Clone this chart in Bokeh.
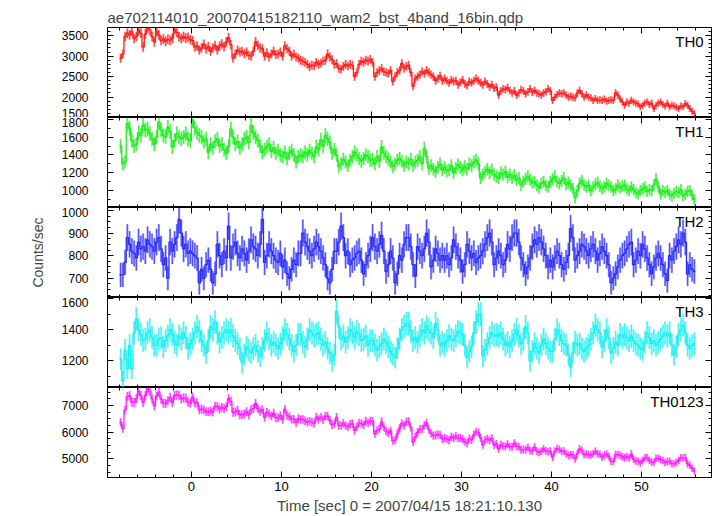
import numpy as np
from bokeh.plotting import figure
from bokeh.layouts import column
from bokeh.models import LinearAxis, Range1d, Label, SingleIntervalTicker, CustomLabelingPolicy
from bokeh.embed import file_html
from bokeh.resources import INLINE

# ---------------- data (0.25 s bins starting at -8 s) ----------------
bin_width = 0.25
t_start = -8.0

th0 = [
    2950, 3050, 3480, 3560, 3520, 3600, 3430, 3480, 3620, 3560, 3220, 3540, 3700, 3640, 3480, 3350,
    3600, 3520, 3380, 3420, 3360, 3410, 3390, 3440, 3650, 3580, 3470, 3430, 3480, 3440, 3460, 3400,
    3380, 3220, 3250, 3150, 3200, 3290, 3180, 3230, 3120, 3200, 3260, 3150, 3250, 3300, 3230, 3350,
    3450, 3280, 2950, 3050, 3150, 3100, 3120, 3060, 3100, 3020, 3000, 3120, 3350, 3260, 3200, 3180,
    3000, 3080, 2980, 3050, 3120, 3040, 3050, 3100, 3000, 3250, 3180, 3120, 3000, 3050, 2980, 2950,
    2900, 2880, 2850, 2800, 2740, 2780, 2760, 2850, 2800, 2830, 2880, 2900, 3050, 2980, 2920, 2800,
    2820, 2700, 2680, 2750, 2800, 2760, 2800, 2780, 2500, 2600, 2800, 2880, 2850, 2900, 2880, 2920,
    2850, 2500, 2600, 2650, 2700, 2620, 2600, 2580, 2650, 2380, 2500, 2600, 2650, 2820, 2700, 2750,
    2780, 2600, 2260, 2450, 2500, 2550, 2620, 2580, 2650, 2600, 2550, 2500, 2400, 2450, 2520, 2400,
    2450, 2400, 2350, 2420, 2380, 2400, 2300, 2360, 2420, 2320, 2280, 2380, 2350, 2400, 2450, 2400,
    2350, 2300, 2380, 2320, 2250, 2300, 2220, 2240, 2050, 2150, 2200, 2180, 2230, 2160, 2100, 2150,
    2050, 2100, 2180, 2150, 2080, 2130, 2200, 2120, 2160, 2100, 2080, 2050, 2100, 2130, 2200, 2150,
    1920, 2000, 2060, 2100, 2080, 2100, 2050, 2000, 2020, 2000, 1980, 2100, 2160, 2080, 2000, 2050,
    2000, 1980, 1920, 1960, 1920, 1930, 1920, 1950, 1900, 1920, 1930, 1920, 2100, 2050, 1950, 1880,
    1800, 1880, 1850, 1920, 1880, 1850, 1830, 1760, 1800, 1850, 1880, 1820, 1850, 1720, 1800, 1850,
    1880, 1820, 1780, 1850, 1760, 1800, 1780, 1750, 1720, 1780, 1760, 1840, 1800, 1720, 1650, 1600,
]

th1 = [
    1500, 1300, 1320, 1750, 1700, 1560, 1500, 1520, 1650, 1620, 1730, 1680, 1690, 1640, 1580, 1520,
    1600, 1770, 1680, 1620, 1600, 1710, 1660, 1490, 1560, 1640, 1600, 1580, 1600, 1640, 1580, 1560,
    1790, 1700, 1650, 1620, 1600, 1550, 1580, 1430, 1520, 1480, 1550, 1580, 1500, 1520, 1460, 1420,
    1500, 1690, 1600, 1520, 1550, 1480, 1520, 1580, 1600, 1540, 1730, 1650, 1600, 1560, 1500, 1430,
    1460, 1490, 1520, 1440, 1480, 1420, 1450, 1400, 1380, 1430, 1360, 1420, 1450, 1400, 1320, 1380,
    1400, 1380, 1430, 1400, 1450, 1420, 1380, 1490, 1460, 1570, 1500, 1620, 1580, 1540, 1420, 1460,
    1400, 1270, 1300, 1350, 1320, 1280, 1340, 1380, 1430, 1400, 1360, 1330, 1360, 1400, 1380, 1340,
    1350, 1300, 1380, 1330, 1490, 1420, 1380, 1350, 1320, 1270, 1300, 1340, 1360, 1330, 1280, 1320,
    1300, 1350, 1280, 1320, 1340, 1380, 1300, 1470, 1380, 1250, 1280, 1240, 1210, 1260, 1300, 1230,
    1260, 1220, 1230, 1280, 1200, 1250, 1290, 1260, 1230, 1270, 1240, 1300, 1280, 1320, 1340, 1300,
    1140, 1180, 1210, 1240, 1200, 1230, 1180, 1160, 1140, 1200, 1180, 1210, 1150, 1180, 1140, 1170,
    1120, 1140, 1060, 1100, 1130, 1160, 1120, 1090, 1100, 1060, 1030, 1080, 1100, 1060, 1040, 1100,
    1130, 1160, 1100, 1080, 1110, 1140, 1070, 1090, 1060, 1020, 920, 1000, 1080, 1110, 1060, 1040,
    1060, 1000, 1040, 1070, 1090, 1050, 1020, 1040, 1080, 1060, 1040, 1000, 1020, 1060, 1030, 1050,
    1060, 1020, 1000, 1040, 1010, 980, 960, 1000, 1020, 1040, 990, 1010, 1000, 1060, 1130, 1040,
    960, 1000, 980, 1000, 960, 940, 970, 990, 980, 1010, 940, 960, 990, 1000, 950, 900,
]

th2 = [
    715, 715, 770, 880, 850, 820, 810, 790, 860, 830, 840, 820, 870, 850, 840, 820,
    860, 880, 830, 760, 790, 700, 860, 820, 850, 880, 960, 900, 830, 850, 810, 820,
    810, 800, 790, 680, 740, 700, 760, 780, 740, 680, 720, 850, 800, 760, 820, 790,
    930, 790, 840, 860, 810, 790, 830, 810, 780, 820, 870, 840, 830, 800, 850, 960,
    770, 800, 850, 820, 800, 780, 770, 810, 750, 780, 720, 700, 740, 780, 760, 810,
    810, 900, 860, 840, 820, 800, 830, 860, 840, 820, 790, 760, 700, 680, 740, 820,
    820, 860, 930, 880, 800, 820, 760, 780, 790, 810, 820, 780, 720, 760, 800, 830,
    880, 840, 820, 850, 890, 820, 730, 760, 820, 790, 680, 720, 800, 780, 850, 880,
    880, 840, 760, 710, 840, 820, 800, 830, 900, 860, 750, 780, 830, 810, 780, 800,
    780, 800, 760, 790, 870, 840, 800, 780, 730, 760, 850, 820, 790, 810, 770, 790,
    800, 820, 850, 880, 900, 860, 760, 790, 820, 800, 760, 780, 850, 830, 880, 900,
    900, 860, 790, 760, 720, 750, 790, 840, 870, 850, 880, 860, 830, 800, 750, 780,
    750, 790, 820, 800, 760, 740, 770, 800, 920, 880, 780, 800, 820, 850, 840, 820,
    800, 830, 850, 820, 780, 810, 840, 820, 800, 760, 680, 700, 720, 750, 780, 800,
    810, 830, 850, 860, 760, 780, 820, 800, 850, 830, 790, 760, 720, 750, 790, 810,
    790, 760, 720, 690, 800, 780, 820, 840, 870, 850, 900, 860, 720, 760, 740, 730,
]

th3 = [
    1210, 1070, 1270, 1150, 1300, 1150, 1380, 1470, 1400, 1370, 1330, 1340, 1380, 1400, 1350, 1300,
    1300, 1340, 1350, 1290, 1330, 1360, 1400, 1370, 1320, 1300, 1360, 1340, 1380, 1350, 1280, 1310,
    1340, 1380, 1420, 1390, 1330, 1300, 1250, 1330, 1420, 1400, 1450, 1380, 1320, 1350, 1380, 1400,
    1380, 1400, 1360, 1330, 1310, 1280, 1190, 1240, 1290, 1270, 1250, 1280, 1300, 1260, 1230, 1280,
    1330, 1380, 1340, 1300, 1320, 1300, 1280, 1310, 1350, 1400, 1370, 1340, 1300, 1260, 1300, 1370,
    1370, 1320, 1290, 1340, 1400, 1380, 1360, 1370, 1380, 1340, 1300, 1320, 1280, 1250, 1200, 1240,
    1520, 1420, 1340, 1360, 1320, 1350, 1400, 1380, 1350, 1390, 1370, 1330, 1340, 1360, 1300, 1330,
    1330, 1300, 1270, 1290, 1310, 1340, 1320, 1290, 1260, 1240, 1220, 1280, 1340, 1400, 1420, 1440,
    1440, 1390, 1330, 1350, 1320, 1360, 1400, 1380, 1420, 1400, 1380, 1350, 1440, 1400, 1300, 1320,
    1300, 1330, 1360, 1340, 1330, 1360, 1390, 1380, 1370, 1300, 1220, 1260, 1290, 1380, 1450, 1500,
    1500, 1230, 1270, 1310, 1350, 1380, 1360, 1370, 1360, 1380, 1340, 1300, 1320, 1290, 1330, 1370,
    1400, 1360, 1310, 1340, 1420, 1380, 1200, 1260, 1310, 1280, 1250, 1300, 1340, 1310, 1280, 1260,
    1260, 1340, 1400, 1370, 1330, 1310, 1300, 1240, 1160, 1250, 1320, 1300, 1310, 1280, 1260, 1280,
    1300, 1340, 1380, 1430, 1400, 1380, 1290, 1330, 1400, 1350, 1250, 1280, 1320, 1300, 1370, 1350,
    1370, 1350, 1330, 1360, 1330, 1310, 1300, 1280, 1270, 1320, 1380, 1350, 1310, 1330, 1300, 1320,
    1340, 1360, 1380, 1360, 1380, 1300, 1240, 1290, 1370, 1400, 1430, 1380, 1300, 1280, 1300, 1310,
]

panel_names = ["TH0", "TH1", "TH2", "TH3", "TH0123"]
line_colors = ["#ff1a1a", "#1aee1a", "#2a2aff", "#1af0f0", "#ff1aff"]
y_limits = [(1500, 3700), (810, 1820), (615, 1013), (1028, 1608), (4300, 7680)]
y_major = [500, 200, 100, 200, 1000]
y_minor_n = [5, 2, 4, 2, 4]
x_limits = (-9.33, 57.78)

title_text = "ae702114010_20070415182110_wam2_bst_4band_16bin.qdp"
x_label = "Time [sec] 0 = 2007/04/15 18:21:10.130"
y_label = "Counts/sec"

# ---------------- derived ----------------
series = [np.array(th0, float), np.array(th1, float), np.array(th2, float), np.array(th3, float)]
series.append(series[0] + series[1] + series[2] + series[3])
n = len(th0)
edges = t_start + bin_width * np.arange(n + 1)
centers = edges[:-1] + bin_width / 2

FONT = "Liberation Sans"


def style_axis(ax, show_labels, label_size="12px"):
    ax.axis_line_color = "black"
    ax.axis_line_width = 1
    ax.major_tick_in = 6
    ax.major_tick_out = 0
    ax.minor_tick_in = 3
    ax.minor_tick_out = 0
    ax.major_tick_line_color = "black"
    ax.minor_tick_line_color = "black"
    ax.major_label_text_font = FONT
    ax.major_label_text_color = "black"
    ax.major_label_text_font_size = label_size
    if not show_labels:
        ax.major_label_standoff = 0
        ax.major_label_policy = CustomLabelingPolicy(code="return []")


xr = Range1d(*x_limits)
figs = []
for i in range(5):
    top_b = 27 if i == 0 else 0
    bot_b = 38 if i == 4 else 0
    p = figure(frame_width=604, frame_height=90, x_range=xr,
               y_range=Range1d(*y_limits[i]),
               output_backend="svg", toolbar_location=None,
               x_axis_location=None, y_axis_location=None,
               min_border_left=107, min_border_right=4,
               min_border_top=top_b, min_border_bottom=bot_b,
               title=title_text if i == 0 else None)
    p.grid.visible = False
    p.outline_line_color = "black"
    p.background_fill_color = "white"
    p.border_fill_color = "white"
    if i == 0:
        p.title.text_font = FONT
        p.title.text_font_size = "15px"
        p.title.text_font_style = "normal"
        p.title.align = "left"
        p.title.standoff = 4
        p.title.offset = 0

    ylo, yhi = y_limits[i]

    left = LinearAxis(ticker=SingleIntervalTicker(interval=y_major[i], num_minor_ticks=y_minor_n[i]))
    style_axis(left, True, "12px")
    left.major_label_standoff = 19
    if i == 2:
        left.axis_label = y_label
        left.axis_label_text_font = FONT
        left.axis_label_text_font_size = "14px"
        left.axis_label_text_font_style = "normal"
        left.axis_label_standoff = 13
    p.add_layout(left, "left")

    right = LinearAxis(ticker=SingleIntervalTicker(interval=y_major[i], num_minor_ticks=y_minor_n[i]),
                       fixed_location=x_limits[1])
    style_axis(right, False)
    p.add_layout(right, "right")

    top = LinearAxis(ticker=SingleIntervalTicker(interval=10, num_minor_ticks=5),
                     fixed_location=yhi)
    style_axis(top, False)
    p.add_layout(top, "above")

    if i == 4:
        bottom = LinearAxis(ticker=SingleIntervalTicker(interval=10, num_minor_ticks=5))
        style_axis(bottom, True, "13px")
        bottom.major_label_standoff = 4
        bottom.axis_label = x_label
        bottom.axis_label_text_font = FONT
        bottom.axis_label_text_font_size = "15px"
        bottom.axis_label_text_font_style = "normal"
        bottom.axis_label_standoff = 3
    else:
        bottom = LinearAxis(ticker=SingleIntervalTicker(interval=10, num_minor_ticks=5),
                            fixed_location=ylo)
        style_axis(bottom, False)
    p.add_layout(bottom, "below")

    v = series[i]
    err = 2.0 * np.sqrt(v)  # Poisson error for 0.25 s bins
    col = line_colors[i]
    p.segment(x0=centers, y0=v - err, x1=centers, y1=v + err,
              line_color=col, line_alpha=0.45, line_width=2.2)
    p.step(x=edges, y=np.append(v, v[-1]), mode="after",
           line_color=col, line_width=1.3)
    p.segment(x0=centers, y0=v - err, x1=centers, y1=v + err,
              line_color=col, line_alpha=0.9, line_width=0.8)

    p.add_layout(Label(x=56.9, y=yhi - 5 * (yhi - ylo) / 90.0, text=panel_names[i],
                       text_align="right", text_baseline="top",
                       text_font=FONT, text_font_size="15px", text_color="black"))
    figs.append(p)

layout = column(*figs, spacing=0)
open("out.html", "w").write(file_html(layout, INLINE))
